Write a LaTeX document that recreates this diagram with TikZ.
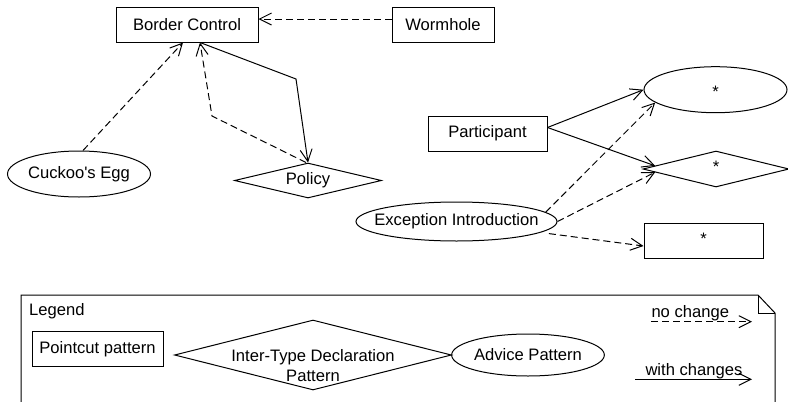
\documentclass[tikz,border=0pt]{standalone}
\usepackage{fontspec}
\setmainfont{Liberation Sans}
\usetikzlibrary{shapes.geometric,arrows.meta}
\tikzset{
	pc/.style={draw, rectangle, line width=1pt, inner sep=0pt},
	itd/.style={draw, diamond, line width=1pt, inner sep=0pt},
	adv/.style={draw, ellipse, line width=1pt, inner sep=0pt},
	dep/.style={line width=1pt, dash pattern=on 7pt off 4pt, -{Straight Barb[length=12pt,width=12pt]}},
	chg/.style={line width=1pt, -{Straight Barb[length=12pt,width=12pt]}}
}

\begin{document}
\begin{tikzpicture}[x=1pt, y=-1pt, font=\fontsize{16.6}{20}\selectfont]
	\useasboundingbox (0,0) rectangle (788,402);

	% pointcuts, inter-type declarations, advice
	\node[pc, minimum width=142pt, minimum height=35pt] (bc) at (187,24.5) {Border Control};
	\node[pc, minimum width=102pt, minimum height=35pt] (worm) at (443,24.5) {Wormhole};
	\node[adv, minimum width=143pt, minimum height=46pt, label=center:{Cuckoo\textquotesingle s Egg}] (egg) at (79,174) {};
	\node[itd, minimum width=147pt, minimum height=35pt, label=center:{Policy}] (pol) at (308,180.5) {};
	\node[pc, minimum width=119pt, minimum height=35pt] (part) at (487.5,133.5) {Participant};
	\node[adv, minimum width=201pt, minimum height=39pt, label=center:{Exception Introduction}] (exc) at (456.5,221.5) {};
	\node[adv, minimum width=143pt, minimum height=46pt, label={[yshift=-2pt]center:*}] (advany) at (715.5,89.7) {};
	\node[itd, minimum width=146pt, minimum height=36pt, label={[yshift=2pt]center:*}] (itdany) at (716,169) {};
	\node[pc, minimum width=119pt, minimum height=35pt, label={[yshift=2pt]center:*}] (pcany) at (703.5,240.5) {};

	\coordinate (bendA) at (296,79);
	\coordinate (bendB) at (212,116);

	% arrows
	\draw[dep] ([yshift=5.5pt]worm.west) -- ([yshift=5.5pt]bc.east);
	\draw[dep] ([xshift=4pt]egg.north) -- ([xshift=-4pt]bc.south);
	\draw[chg] ([xshift=13pt]bc.south) -- (bendA) -- (pol.north);
	\draw[dep] ([xshift=-2pt]pol.north) -- (bendB) -- ([xshift=13pt]bc.south);
	\draw[chg] ([yshift=6pt]part.east) -- (advany.west);
	\draw[chg] ([yshift=6pt]part.east) -- (itdany.177);
	\draw[dep] (exc.6) -- (advany.192);
	\draw[dep] (exc.east) -- (itdany.183);
	\draw[dep] ([yshift=-4pt]exc.-5) -- ([yshift=-5.5pt]pcany.west);

	% legend
	\draw[line width=1pt] (21,410) -- (21,295) -- (758,295) -- (775,313) -- (775,410);
	\draw[line width=1pt] (758,295) -- (758,313) -- (775,313);
	\node[anchor=west, inner sep=0pt] (legtitle) at (29,311.7) {Legend};
	\node[pc, minimum width=131pt, minimum height=35pt] (pclegend) at (97.5,349) {Pointcut pattern};
	\node[itd, minimum width=277pt, minimum height=70pt] (itdlegend) at (313,355) {};
	\node[align=center, inner sep=0pt] (itdtext) at (313,366) {Inter-Type Declaration\\Pattern};
	\node[adv, minimum width=140pt, minimum height=42pt] (advlegend) at (528,355) {Advice Pattern};

	\coordinate (ncA) at (651,321.7);
	\coordinate (ncB) at (752,321.7);
	\coordinate (wcA) at (635,379.3);
	\coordinate (wcB) at (752,379.3);
	\draw[dep] (ncA) -- (ncB) node[pos=0, anchor=base west, yshift=4pt, inner sep=0pt] {no change};
	\draw[chg] (wcA) -- (wcB) node[pos=0, anchor=base west, xshift=10pt, yshift=4pt, inner sep=0pt] {with changes};
\end{tikzpicture}
\end{document}
